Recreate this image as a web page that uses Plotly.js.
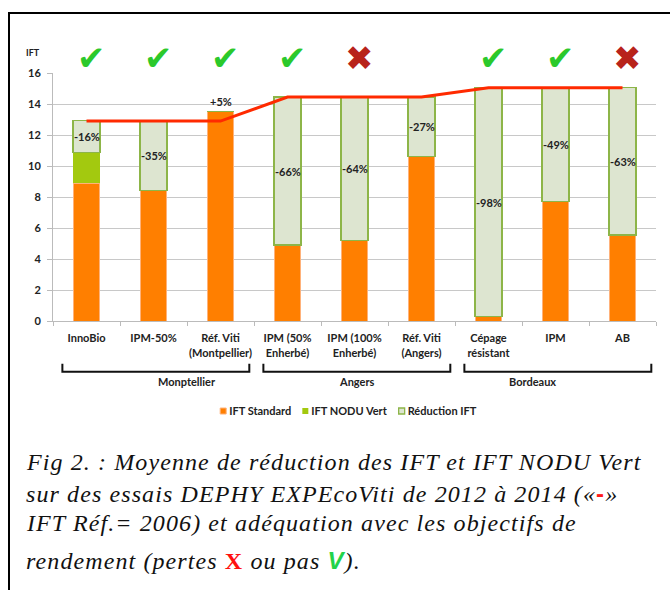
<!DOCTYPE html>
<html>
<head>
<meta charset="utf-8">
<script src="https://cdn.plot.ly/plotly-3.0.1.min.js"></script>
<style>
  html, body { margin: 0; padding: 0; background: #fff; }
  #wrap { position: relative; width: 670px; height: 590px; overflow: hidden; }
  #chart { width: 670px; height: 590px; }
  #frame { position: absolute; left: 8px; top: 12px; width: 700px; height: 620px;
           border-left: 2px solid #000; border-top: 2px solid #000; pointer-events: none; }
</style>
</head>
<body>
<div id="wrap"><div id="chart"></div><div id="frame"></div></div>
<script>
// ---- data ----
const categories = ['InnoBio', 'IPM-50%', 'Réf. Viti<br>(Montpellier)', 'IPM (50%<br>Enherbé)',
  'IPM (100%<br>Enherbé)', 'Réf. Viti<br>(Angers)', 'Cépage<br>résistant', 'IPM', 'AB'];
const iftStandard = [8.9, 8.4, 13.5, 4.9, 5.2, 10.6, 0.3, 7.7, 5.55];
const iftNoduVert = [1.95, 0, 0, 0, 0, 0, 0, 0, 0];
const reductionIFT = [2.1, 4.5, 0, 9.55, 9.25, 3.85, 14.75, 7.35, 9.5];
const iftRef = [12.9, 12.9, 12.9, 14.45, 14.45, 14.45, 15.05, 15.05, 15.05];
const reductionLabels = ['-16%', '-35%', '+5%', '-66%', '-64%', '-27%', '-98%', '-49%', '-63%'];
const yieldStatus = ['ok', 'ok', 'ok', 'ok', 'loss', '', 'ok', 'ok', 'loss'];
const groupNames = ['Monptellier', 'Angers', 'Bordeaux'];
const groupStart = [0, 3, 6];
const groupEnd = [2, 5, 8];
const yTicks = [0, 2, 4, 6, 8, 10, 12, 14, 16];

const boldFont = 'Lato, Open Sans, sans-serif';
const lblFont = { family: boldFont, size: 11, color: '#222', weight: 700 };

const traces = [
  { type: 'bar', name: 'IFT Standard', x: categories, y: iftStandard,
    marker: { color: '#ff7f00', line: { color: '#ffb27a', width: 1 } }, hoverinfo: 'skip' },
  { type: 'bar', name: 'IFT NODU Vert', x: categories, y: iftNoduVert,
    marker: { color: '#a3c90f', line: { color: '#a3c90f', width: 0 } }, hoverinfo: 'skip' },
  { type: 'bar', name: 'Réduction IFT', x: categories, y: reductionIFT,
    marker: { color: '#dde5d0', line: { color: '#8db548', width: 1.3 } }, hoverinfo: 'skip' },
  { type: 'scatter', mode: 'lines', x: categories, y: iftRef, showlegend: false,
    line: { color: '#ff2a00', width: 3 }, hoverinfo: 'skip' }
];

const annotations = [];
categories.forEach((c, i) => {
  const base = iftStandard[i] + iftNoduVert[i];
  if (reductionIFT[i] > 0) {
    annotations.push({ x: c, y: base + reductionIFT[i] / 2, text: reductionLabels[i], showarrow: false,
      font: lblFont });
  } else {
    annotations.push({ x: c, y: iftStandard[i], yanchor: 'bottom', yshift: 2, text: reductionLabels[i],
      showarrow: false, font: lblFont });
  }
  if (yieldStatus[i] === 'ok') {
    annotations.push({ x: c, yref: 'paper', y: 1.062, yanchor: 'middle', text: '✔', showarrow: false, xshift: 5,
      font: { family: 'DejaVu Sans', size: 34, color: '#2bc92b' } });
  } else if (yieldStatus[i] === 'loss') {
    annotations.push({ x: c, yref: 'paper', y: 1.062, yanchor: 'middle', text: '✖', showarrow: false, xshift: 5,
      font: { family: 'DejaVu Sans', size: 34, color: '#b8231b' } });
  }
});

// IFT axis label
annotations.push({ xref: 'paper', yref: 'paper', x: -0.018, y: 1.081, xanchor: 'right', yanchor: 'middle',
  text: 'IFT', showarrow: false, font: { family: boldFont, size: 9, color: '#222', weight: 700 } });

// group brackets + names
const n = categories.length;
const shapes = [];
groupNames.forEach((g, k) => {
  const x0 = (groupStart[k] + 0.14) / n;
  const x1 = (groupEnd[k] + 1 - 0.07) / n;
  shapes.push({ type: 'path', xref: 'paper', yref: 'paper',
    path: `M ${x0},-0.172 L ${x0},-0.205 L ${x1},-0.205 L ${x1},-0.172`,
    line: { color: '#111', width: 2 } });
  annotations.push({ xref: 'paper', yref: 'paper', x: (x0 + x1) / 2, y: -0.242, yanchor: 'middle', text: g,
    showarrow: false, font: lblFont });
});

// caption
const capFont = { family: 'Liberation Serif, Times New Roman, serif', size: 24, color: '#111', style: 'italic' };
const ls = 'letter-spacing:1.1px';
const capLines = [
  `<span style="${ls}">Fig 2. : Moyenne de réduction des IFT et IFT NODU Vert</span>`,
  `<span style="${ls}">sur des essais DEPHY EXPEcoViti de 2012 à 2014 («<span style="color:#ff1a1a;font-style:normal;font-family:Liberation Sans;font-weight:bold">-</span>»</span>`,
  `<span style="${ls}">IFT Réf.= 2006) et adéquation avec les objectifs de</span>`,
  `<span style="${ls}">rendement (pertes <span style="color:#ff1010;font-style:normal;font-weight:bold">X</span> ou pas <span style="color:#22d34a;font-family:Liberation Sans;font-weight:bold">V</span>).</span>`
];
const capY = [-0.569, -0.694, -0.815, -0.964];
capLines.forEach((t, i) => {
  annotations.push({ xref: 'paper', yref: 'paper', x: -0.048, y: capY[i], xanchor: 'left', yanchor: 'middle',
    text: t, showarrow: false, font: capFont });
});

const layout = {
  width: 670, height: 590,
  margin: { l: 53, r: 14, t: 73, b: 269 },
  paper_bgcolor: '#fff', plot_bgcolor: '#fff',
  barmode: 'stack', bargap: 0.6,
  showlegend: true,
  legend: { orientation: 'h', x: 0.49, xanchor: 'center', y: -0.363, yanchor: 'middle',
    font: lblFont, itemwidth: 30, traceorder: 'normal' },
  xaxis: { type: 'category', tickson: 'boundaries', ticks: 'outside', ticklen: 4, tickcolor: '#bbb',
    showline: true, linecolor: '#bbb', linewidth: 1, showgrid: false, ticklabelstandoff: 7,
    tickfont: lblFont, tickangle: 0 },
  yaxis: { range: [0, 16], tickvals: yTicks, ticks: 'outside', ticklen: 5, tickcolor: '#bbb',
    showline: true, linecolor: '#bbb', linewidth: 1, gridcolor: '#c8c8c8', gridwidth: 1, zeroline: false,
    ticklabelstandoff: 4, tickfont: lblFont },
  annotations: annotations,
  shapes: shapes
};

function findSwatch(item) {
  const paths = Array.from(item.querySelectorAll('.legendsymbols path, .legendpoints path, path.legendbar'));
  return paths.find(p => (p.getAttribute('d') || '').length > 0) || null;
}

Plotly.newPlot('chart', traces, layout, { displayModeBar: false, staticPlot: true }).then(gd => {
  try {
    // compact legend: small square swatches placed just before the text
    const items = Array.from(gd.querySelectorAll('.legend .traces'))
      .filter(it => findSwatch(it) && it.querySelector('text.legendtext'));
    items.forEach(item => {
      const path = findSwatch(item);
      const text = item.querySelector('text.legendtext');
      path.setAttribute('d', 'M3,3H-3V-3H3Z');
      const pr = path.getBoundingClientRect(), tr = text.getBoundingClientRect();
      const dx = (tr.left - 3) - pr.right;
      path.setAttribute('transform', (path.getAttribute('transform') || '') + ` translate(${dx},0)`);
    });
    let prevRight = null;
    items.forEach(item => {
      const path = findSwatch(item);
      const text = item.querySelector('text.legendtext');
      if (prevRight !== null) {
        const dx = (prevRight + 11) - path.getBoundingClientRect().left;
        item.setAttribute('transform', (item.getAttribute('transform') || '') + ` translate(${dx},0)`);
      }
      prevRight = text.getBoundingClientRect().right;
    });
    if (items.length) {
      const first = findSwatch(items[0]).getBoundingClientRect().left;
      const wrapLeft = document.getElementById('chart').getBoundingClientRect().left;
      const center = (first + prevRight) / 2 - wrapLeft;
      const plotCenter = 53 + (670 - 53 - 14) * 0.49;
      const shift = plotCenter - center;
      items.forEach(item => item.setAttribute('transform', (item.getAttribute('transform') || '') + ` translate(${shift},0)`));
    }
  } catch (e) { /* keep default legend if structure differs */ }
});
</script>
</body>
</html>
